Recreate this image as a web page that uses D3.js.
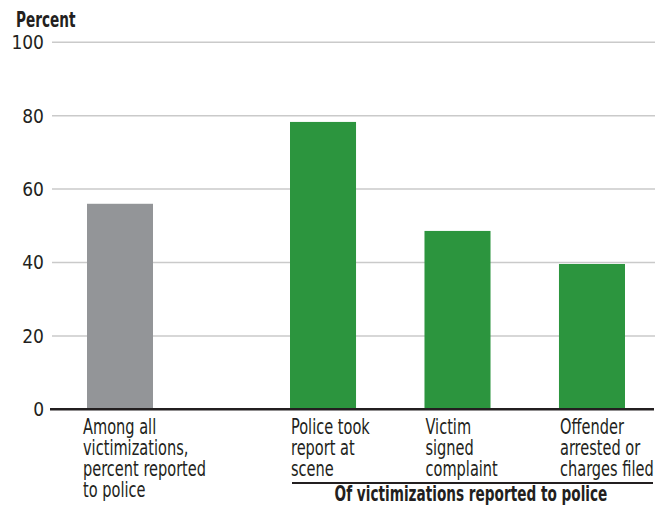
<!DOCTYPE html>
<html>
<head>
<meta charset="utf-8">
<script src="https://cdn.jsdelivr.net/npm/d3@7"></script>
<style>
  body { margin: 0; background: white; }
  text { font-family: "Liberation Sans Narrow", "DejaVu Sans Condensed", sans-serif; fill: #231f20; }
</style>
</head>
<body>
<div id="chart"></div>
<script>
// Data
const allCategory = ["Among all victimizations, percent reported to police"];
const allValues = [56];
const reportedCategories = ["Police took report at scene", "Victim signed complaint", "Offender arrested or charges filed"];
const reportedValues = [78.3, 48.6, 39.6];
const allLabelLines = [["Among all", "victimizations,", "percent reported", "to police"]];
const reportedLabelLines = [["Police took", "report at", "scene"], ["Victim", "signed", "complaint"], ["Offender", "arrested or", "charges filed"]];
const yTicks = [0, 20, 40, 60, 80, 100];
const yTitle = "Percent";
const groupTitle = "Of victimizations reported to police";

const width = 661, height = 505;
const gray = "#939598";
const green = "#2c953e";
const ink = "#231f20";

// the original uses a condensed face; squeeze the fallback horizontally
const labelSize = 20.5;
const squeezeRegular = 0.79, squeezeBold = 0.74;

const svg = d3.select("#chart").append("svg")
    .attr("width", width).attr("height", height);

const y = d3.scaleLinear().domain([0, 100]).range([409.3, 42.3]);

// the single gray bar and the group of three green bars get their own band scales
const xAll = d3.scaleBand().domain(allCategory).range([87, 153]);
const xRep = d3.scaleBand().domain(reportedCategories).range([290, 625]).paddingInner(0.509);

// gridlines + tick labels
const yAxis = d3.axisLeft(y).tickValues(yTicks).tickSize(0).tickPadding(0);
const gy = svg.append("g").attr("transform", "translate(44,0)").call(yAxis);
gy.select(".domain").remove();
gy.selectAll("text")
    .attr("font-size", 19).attr("dy", "0.34em")
    .style("font-family", "'Liberation Sans Narrow', 'DejaVu Sans Condensed', sans-serif")
    .attr("fill", ink);

svg.append("g").selectAll("line").data(yTicks.filter(d => d > 0)).enter().append("line")
    .attr("x1", 52).attr("x2", 655)
    .attr("y1", d => y(d)).attr("y2", d => y(d))
    .attr("stroke", "#cacaca").attr("stroke-width", 1.5);

svg.append("g").attr("transform", `translate(16,27) scale(${squeezeBold},1)`)
    .append("text").attr("font-size", labelSize).attr("font-weight", "bold")
    .text(yTitle);

// bars
svg.append("g").selectAll("rect").data(allCategory).enter().append("rect")
    .attr("x", d => xAll(d)).attr("width", xAll.bandwidth())
    .attr("y", (d, i) => y(allValues[i])).attr("height", (d, i) => y(0) - y(allValues[i]))
    .attr("fill", gray);

svg.append("g").selectAll("rect").data(reportedCategories).enter().append("rect")
    .attr("x", d => xRep(d)).attr("width", xRep.bandwidth())
    .attr("y", (d, i) => y(reportedValues[i])).attr("height", (d, i) => y(0) - y(reportedValues[i]))
    .attr("fill", green);

// baseline
svg.append("line").attr("x1", 50).attr("x2", 654)
    .attr("y1", y(0)).attr("y2", y(0))
    .attr("stroke", ink).attr("stroke-width", 2.4);

// category labels, left aligned under each bar
function labels(cats, lines, xs, dx) {
    const g = svg.append("g").selectAll("g").data(cats).enter().append("g")
        .attr("transform", d => `translate(${xs(d) + dx},434) scale(${squeezeRegular},1)`);
    g.append("text").attr("font-size", labelSize)
        .selectAll("tspan").data((d, i) => lines[i]).enter().append("tspan")
        .attr("x", 0)
        .attr("dy", (d, i) => i === 0 ? 0 : 21)
        .text(d => d);
}
labels(allCategory, allLabelLines, xAll, -4);
labels(reportedCategories, reportedLabelLines, xRep, 1);

// group bracket
svg.append("line").attr("x1", 292).attr("x2", 653).attr("y1", 483).attr("y2", 483)
    .attr("stroke", ink).attr("stroke-width", 1.8);
svg.append("g").attr("transform", `translate(471,501) scale(${squeezeBold},1)`)
    .append("text").attr("text-anchor", "middle").attr("font-size", labelSize).attr("font-weight", "bold")
    .text(groupTitle);
</script>
</body>
</html>
